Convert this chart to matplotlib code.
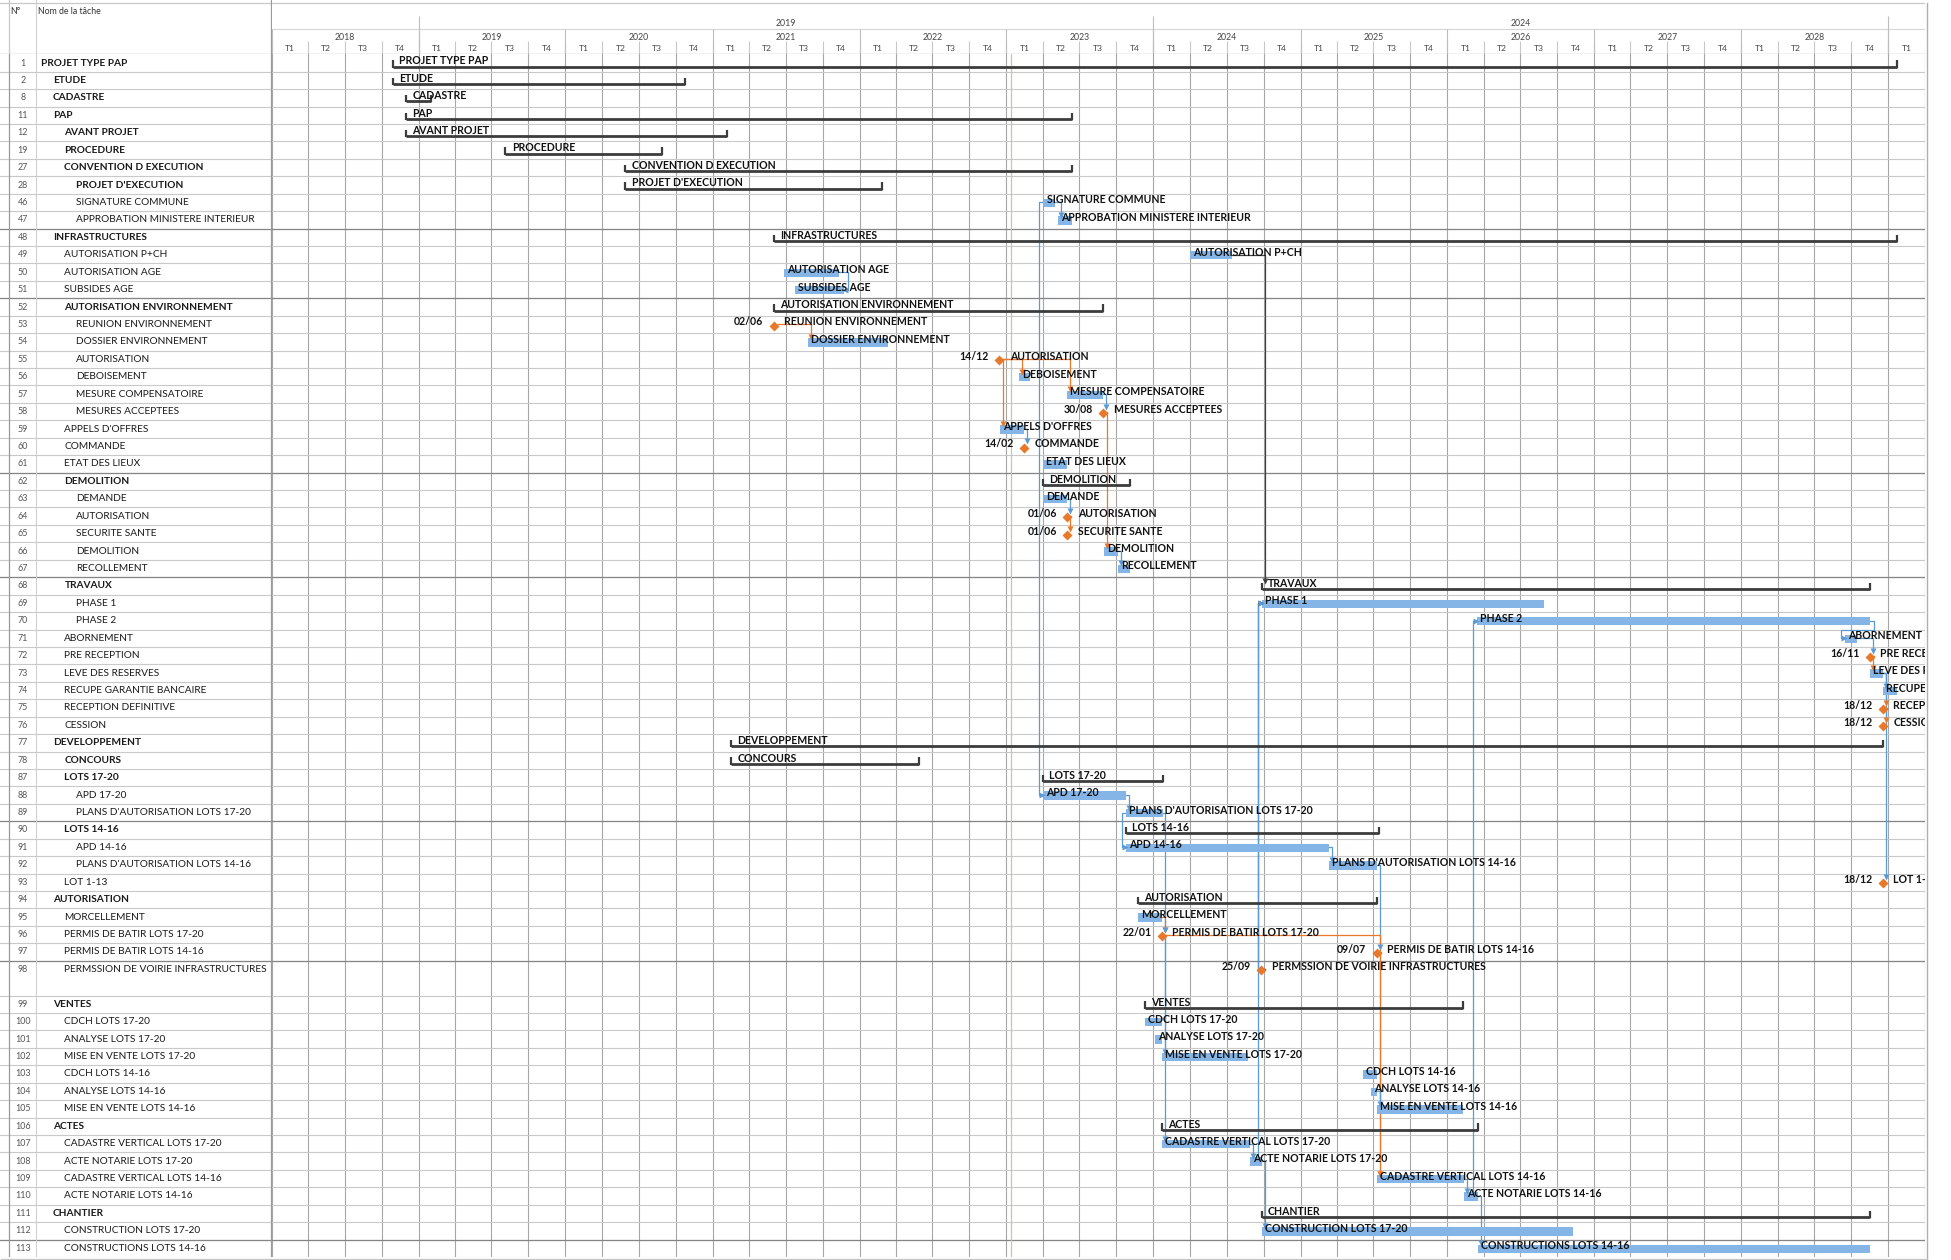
import matplotlib.pyplot as plt
import matplotlib.dates as mdates
from datetime import datetime

plt.rcParams['font.family'] = ['Lato', 'DejaVu Sans']

ids = [1, 2, 8, 11, 12, 19, 27, 28, 46, 47, 48, 49, 50, 51, 52, 53, 54, 55, 56, 57,
       58, 59, 60, 61, 62, 63, 64, 65, 66, 67, 68, 69, 70, 71, 72, 73, 74, 75, 76, 77,
       78, 87, 88, 89, 90, 91, 92, 93, 94, 95, 96, 97, 98, 99, 100, 101, 102, 103, 104,
       105, 106, 107, 108, 109, 110, 111, 112, 113]
names = ['PROJET TYPE PAP', 'ETUDE', 'CADASTRE', 'PAP', 'AVANT PROJET', 'PROCEDURE',
         'CONVENTION D EXECUTION', "PROJET D'EXECUTION", 'SIGNATURE COMMUNE',
         'APPROBATION MINISTERE INTERIEUR', 'INFRASTRUCTURES', 'AUTORISATION P+CH',
         'AUTORISATION AGE', 'SUBSIDES AGE', 'AUTORISATION ENVIRONNEMENT',
         'REUNION ENVIRONNEMENT', 'DOSSIER ENVIRONNEMENT', 'AUTORISATION', 'DEBOISEMENT',
         'MESURE COMPENSATOIRE', 'MESURES ACCEPTEES', "APPELS D'OFFRES", 'COMMANDE',
         'ETAT DES LIEUX', 'DEMOLITION', 'DEMANDE', 'AUTORISATION', 'SECURITE SANTE',
         'DEMOLITION', 'RECOLLEMENT', 'TRAVAUX', 'PHASE 1', 'PHASE 2', 'ABORNEMENT',
         'PRE RECEPTION', 'LEVE DES RESERVES', 'RECUPE GARANTIE BANCAIRE',
         'RECEPTION DEFINITIVE', 'CESSION', 'DEVELOPPEMENT', 'CONCOURS', 'LOTS 17-20',
         'APD 17-20', "PLANS D'AUTORISATION LOTS 17-20", 'LOTS 14-16', 'APD 14-16',
         "PLANS D'AUTORISATION LOTS 14-16", 'LOT 1-13', 'AUTORISATION', 'MORCELLEMENT',
         'PERMIS DE BATIR LOTS 17-20', 'PERMIS DE BATIR LOTS 14-16',
         'PERMSSION DE VOIRIE INFRASTRUCTURES', 'VENTES', 'CDCH LOTS 17-20',
         'ANALYSE LOTS 17-20', 'MISE EN VENTE LOTS 17-20', 'CDCH LOTS 14-16',
         'ANALYSE LOTS 14-16', 'MISE EN VENTE LOTS 14-16', 'ACTES',
         'CADASTRE VERTICAL LOTS 17-20', 'ACTE NOTARIE LOTS 17-20',
         'CADASTRE VERTICAL LOTS 14-16', 'ACTE NOTARIE LOTS 14-16', 'CHANTIER',
         'CONSTRUCTION LOTS 17-20', 'CONSTRUCTIONS LOTS 14-16']
levels = [0, 1, 1, 1, 2, 2, 2, 3, 3, 3, 1, 2, 2, 2, 2, 3, 3, 3, 3, 3,
          3, 2, 2, 2, 2, 3, 3, 3, 3, 3, 2, 3, 3, 2, 2, 2, 2, 2, 2, 1,
          2, 2, 3, 3, 2, 3, 3, 2, 1, 2, 2, 2, 2, 1, 2, 2, 2, 2, 2,
          2, 1, 2, 2, 2, 2, 1, 2, 2]
# s = summary, t = task, m = milestone
kinds = ['s', 's', 's', 's', 's', 's', 's', 's', 't', 't', 's', 't', 't', 't', 's', 'm', 't', 'm', 't', 't',
         'm', 't', 'm', 't', 's', 't', 'm', 'm', 't', 't', 's', 't', 't', 't', 'm', 't', 't', 'm', 'm', 's',
         's', 's', 't', 't', 's', 't', 't', 'm', 's', 't', 'm', 'm', 'm', 's', 't', 't', 't', 't', 't',
         't', 's', 't', 't', 't', 't', 's', 't', 't']
starts = ['2018-10-30', '2018-10-30', '2018-12-01', '2018-12-01', '2018-12-01', '2019-08-05',
          '2020-05-29', '2020-05-29', '2023-04-03', '2023-05-10', '2021-06-02', '2024-04-01',
          '2021-06-26', '2021-07-25', '2021-06-02', '2021-06-02', '2021-08-25', '2022-12-14',
          '2023-02-01', '2023-06-01', '2023-08-30', '2022-12-15', '2023-02-14', '2023-04-01',
          '2023-04-01', '2023-04-01', '2023-06-01', '2023-06-01', '2023-09-01', '2023-10-05',
          '2024-09-26', '2024-09-26', '2026-03-15', '2028-09-15', '2028-11-16', '2028-11-16',
          '2028-12-18', '2028-12-18', '2028-12-18', '2021-02-16', '2021-02-16', '2023-04-01',
          '2023-04-01', '2023-10-24', '2023-10-24', '2023-10-24', '2025-03-13', '2028-12-18',
          '2023-11-23', '2023-11-23', '2024-01-22', '2025-07-09', '2024-09-25', '2023-12-12',
          '2023-12-12', '2024-01-05', '2024-01-22', '2025-06-04', '2025-06-25', '2025-07-09',
          '2024-01-22', '2024-01-22', '2024-08-29', '2025-07-09', '2026-02-12', '2024-09-26',
          '2024-09-26', '2026-03-18']
ends = ['2029-01-22', '2020-10-24', '2019-01-31', '2023-06-12', '2021-02-06', '2020-08-29',
        '2023-06-12', '2022-02-25', '2023-05-01', '2023-06-12', '2029-01-22', '2024-07-15',
        '2021-11-12', '2021-11-24', '2023-08-30', '2021-06-02', '2022-03-13', '2022-12-14',
        '2023-03-01', '2023-08-30', '2023-08-30', '2023-02-14', '2023-02-14', '2023-06-01',
        '2023-11-05', '2023-06-01', '2023-06-01', '2023-06-01', '2023-10-05', '2023-11-05',
        '2028-11-16', '2026-08-29', '2028-11-16', '2028-10-15', '2028-11-16', '2028-12-18',
        '2029-01-22', '2028-12-18', '2028-12-18', '2028-12-18', '2022-05-29', '2024-01-25',
        '2023-10-24', '2024-01-25', '2025-07-14', '2025-03-13', '2025-07-09', '2028-12-18',
        '2025-07-09', '2024-01-22', '2024-01-22', '2025-07-09', '2024-09-25', '2026-02-09',
        '2024-01-22', '2024-01-22', '2024-08-23', '2025-07-09', '2025-07-09', '2026-02-09',
        '2026-03-18', '2024-08-29', '2024-09-26', '2026-02-12', '2026-03-18', '2028-11-16',
        '2026-11-08', '2028-11-16']
# predecessor, successor, route, colour (b blue, o orange, k dark)
links = [(46, 47, 'fs', 'b'), (46, 88, 'ss', 'b'), (50, 51, 'ff', 'b'), (53, 54, 'fs', 'o'),
         (55, 56, 'fs', 'o'), (55, 57, 'fs', 'o'), (55, 59, 'fs', 'o'), (57, 58, 'fs', 'b'),
         (58, 66, 'fs', 'o'), (59, 60, 'fs', 'b'), (63, 64, 'fs', 'b'), (64, 65, 'fs', 'o'),
         (66, 67, 'fs', 'b'), (49, 68, 'fs', 'k'), (98, 69, 'side', 'k'), (108, 69, 'side', 'b'),
         (108, 112, 'fs', 'b'), (110, 70, 'side', 'b'), (110, 113, 'fs', 'b'), (70, 71, 'loop', 'b'),
         (71, 72, 'fs', 'b'), (72, 73, 'fs', 'o'), (73, 74, 'fs', 'b'), (73, 75, 'fs', 'o'),
         (75, 76, 'fs', 'o'), (73, 93, 'fs', 'b'), (88, 89, 'fs', 'b'), (89, 91, 'ss', 'b'),
         (91, 92, 'fs', 'b'), (92, 97, 'fs', 'b'), (95, 96, 'fs', 'o'), (89, 96, 'fs', 'b'),
         (96, 102, 'fs', 'b'), (96, 107, 'fs', 'b'), (96, 109, 'fs', 'o'), (97, 109, 'fs', 'o'),
         (104, 105, 'fs', 'b'), (107, 108, 'fs', 'b'), (109, 110, 'fs', 'b')]
dark_rows = [48, 52, 62, 68, 90, 98, 113]
top_tiers = ['2019', '2024']
years = list(range(2018, 2030))
quarters = ['T1', 'T2', 'T3', 'T4']
today = '2023-01-13'
t_start, t_end = '2018-01-01', '2029-04-01'

colors = {'b': '#5b9bd5', 'o': '#e8792a', 'k': '#404040'}
bar_color = '#84b5e6'

W, H = 1951, 1260
L, R, T, B = 271.7, 1924.6, 54.3, 1257.0


def box(x0, y0, x1, y1):
    return [x0 / W, 1 - y1 / H, (x1 - x0) / W, (y1 - y0) / H]


def num(s):
    return mdates.date2num(datetime.strptime(s, '%Y-%m-%d'))


# row centres, row 98 is twice as tall
ypos = []
bottoms = []
u = 0
for i in ids:
    ypos.append(u + 0.5)
    u += 2 if i == 98 else 1
    bottoms.append(u)
nunits = u
idx = {i: k for k, i in enumerate(ids)}

x0, x1 = num(t_start), num(t_end)
dpx = (x1 - x0) / (R - L)
upx = nunits / (B - T)

fig = plt.figure(figsize=(W / 100, H / 100), dpi=100)

ax = fig.add_axes(box(L, T, R, B))
ax.set_xlim(x0, x1)
ax.set_ylim(nunits, 0)
ax.axis('off')

qdates = ['%d-%02d-01' % (y, m) for y in years for m in (1, 4, 7, 10)] + [t_end]
for q in qdates:
    ax.axvline(num(q), color='#a6a6a6', lw=0.8, zorder=0)
for i, b in zip(ids, bottoms):
    ax.axhline(b, color='#c9c9c9', lw=0.8, zorder=0)
for i in dark_rows:
    ax.axhline(ypos[idx[i]] - 0.5, color='#858585', lw=0.9, zorder=0)
ax.axvline(num(today), color='#a9d8a0', lw=0.9, zorder=1)

# links
for p, s, route, c in links:
    a, b = idx[p], idx[s]
    ya, yb = ypos[a], ypos[b]
    col = colors[c]
    if route == 'ss':
        xa = num(starts[a])
    else:
        xa = num(ends[a]) + (4 * dpx if kinds[a] == 'm' else 0)
    xb = num(starts[b])
    if route == 'fs':
        xv = xb + 3 * dpx
        down = yb > ya
        yt = yb - 5 * upx if down else yb + 5 * upx
        xs, ys, mk = [xa, xv, xv], [ya, ya, yt], 'v' if down else '^'
    elif route in ('ss', 'side'):
        xv = xb - 4 * dpx
        xs, ys, mk = [xa, xv, xv, xb - dpx], [ya, ya, yb, yb], '>'
    elif route == 'loop':
        xr = xa + 4 * dpx
        yh = ya + 0.5
        xv = xb - 4 * dpx
        xs, ys, mk = [xa, xr, xr, xv, xv, xb - dpx], [ya, ya, yh, yh, yb, yb], '>'
    else:
        xe = num(ends[b])
        xr = max(xa, xe) + 4 * dpx
        xs, ys, mk = [xa, xr, xr, xe + dpx], [ya, ya, yb, yb], '<'
    ax.plot(xs, ys, color=col, lw=0.9, zorder=2)
    ax.plot(xs[-1], ys[-1], marker=mk, ms=5, color=col, mec='none', zorder=4)

# bars, milestones, labels
lab = dict(ha='left', va='center', fontsize=7.6, fontweight='bold', color='#111',
           zorder=5, textcoords='offset points', clip_on=True)
for k, (name, kind) in enumerate(zip(names, kinds)):
    y = ypos[k]
    s, e = num(starts[k]), num(ends[k])
    if kind == 's':
        yl = y + 0.2
        ax.plot([s, e], [yl, yl], color='#3c3c3c', lw=2.0, solid_capstyle='butt', zorder=3)
        ax.vlines([s, e], yl - 0.36, yl + 0.06, color='#3c3c3c', lw=1.6, zorder=3)
        ax.annotate(name, (s, y), xytext=(4.5, 1.6), **lab)
    elif kind == 't':
        ax.barh(y + 0.03, e - s, left=s, height=0.48, color=bar_color, zorder=3)
        ax.annotate(name, (s, y), xytext=(2.3, 1.8), **lab)
    else:
        ax.plot(s, y + 0.06, marker='D', ms=4.8, color='#e8792a', mec='none', zorder=4)
        ax.annotate(name, (s, y), xytext=(7.5, 1.8), **lab)
        d = datetime.strptime(starts[k], '%Y-%m-%d').strftime('%d/%m')
        ax.annotate(d, (s, y), xytext=(-7.5, 1.8), **{**lab, 'ha': 'right'})

# task table
tax = fig.add_axes(box(0, T, L, B))
tax.set_xlim(0, L)
tax.set_ylim(nunits, 0)
tax.axis('off')
for k, (i, name) in enumerate(zip(ids, names)):
    y = ypos[k]
    tax.text(22.7, y, str(i), ha='center', va='center', fontsize=6.4, color='#555')
    tax.text(41 + 11.7 * levels[k], y, name, ha='left', va='center', fontsize=7.3,
             fontweight='bold' if kinds[k] == 's' else 'normal', color='#1a1a1a')
    tax.axhline(bottoms[k], color='#c9c9c9', lw=0.8)
for i in dark_rows:
    tax.axhline(ypos[idx[i]] - 0.5, color='#858585', lw=0.9)
tax.axvline(8.5, color='#9a9a9a', lw=0.9)
tax.axvline(35.5, color='#d0d0d0', lw=0.8)
tax.axvline(L - 0.5, color='#9a9a9a', lw=0.9)

# table header
thax = fig.add_axes(box(0, 0, L, T))
thax.set_xlim(0, L)
thax.set_ylim(T, 0)
thax.axis('off')
thax.text(10, 11, 'N°', ha='left', va='center', fontsize=6.3, color='#333')
thax.text(38, 11, 'Nom de la tâche', ha='left', va='center', fontsize=6.3, color='#333')
thax.axhline(3.3, color='#c8c8c8', lw=0.9)
thax.axhline(T - 0.5, color='#9a9a9a', lw=0.9)
thax.axvline(8.5, color='#c8c8c8', lw=0.9)
thax.axvline(35.5, color='#d0d0d0', lw=0.8)
thax.axvline(L - 0.5, color='#9a9a9a', lw=0.9)

# timeline header
hax = fig.add_axes(box(L, 0, R, T))
hax.set_xlim(x0, x1)
hax.set_ylim(T, 0)
hax.axis('off')
hax.axhline(3.3, color='#c8c8c8', lw=0.9)
hax.axhline(29.3, color='#d6d6d6', lw=0.8)
hax.axhline(T - 0.5, color='#9a9a9a', lw=0.9)
for y in years:
    for m, q in zip((1, 4, 7, 10), quarters):
        a = num('%d-%02d-01' % (y, m))
        hax.vlines(a, 41, T, color='#c8c8c8', lw=0.8)
        if y == 2029 and m > 1:
            continue
        b = num('%d-%02d-01' % (y + (m == 10), 1 if m == 10 else m + 3))
        hax.text((a + b) / 2, 48.5, q, ha='center', va='center', fontsize=6.1, color='#444')
    a = num('%d-01-01' % y)
    hax.vlines(a, 29.3, T, color='#bdbdbd', lw=0.8)
    if y < 2029:
        hax.text(num('%d-07-02' % y), 37, str(y), ha='center', va='center',
                 fontsize=6.3, color='#444')
for t in top_tiers:
    y = int(t)
    hax.vlines(num('%d-01-01' % y), 16, T, color='#bdbdbd', lw=0.8)
    hax.text(num('%d-07-02' % (y + 2)), 24, t, ha='center', va='center',
             fontsize=6.3, color='#444')
hax.vlines(num('2029-01-01'), 16, T, color='#bdbdbd', lw=0.8)

fig.add_artist(plt.Line2D([1927 / W] * 2, [0, 1 - 3.3 / H], color='#b0b0b0', lw=1.0))
fig.add_artist(plt.Line2D([0.5 / W, 1927 / W], [1 - 1258.5 / H] * 2, color='#c8c8c8', lw=1.0))

fig.savefig('out.png', dpi=100)
